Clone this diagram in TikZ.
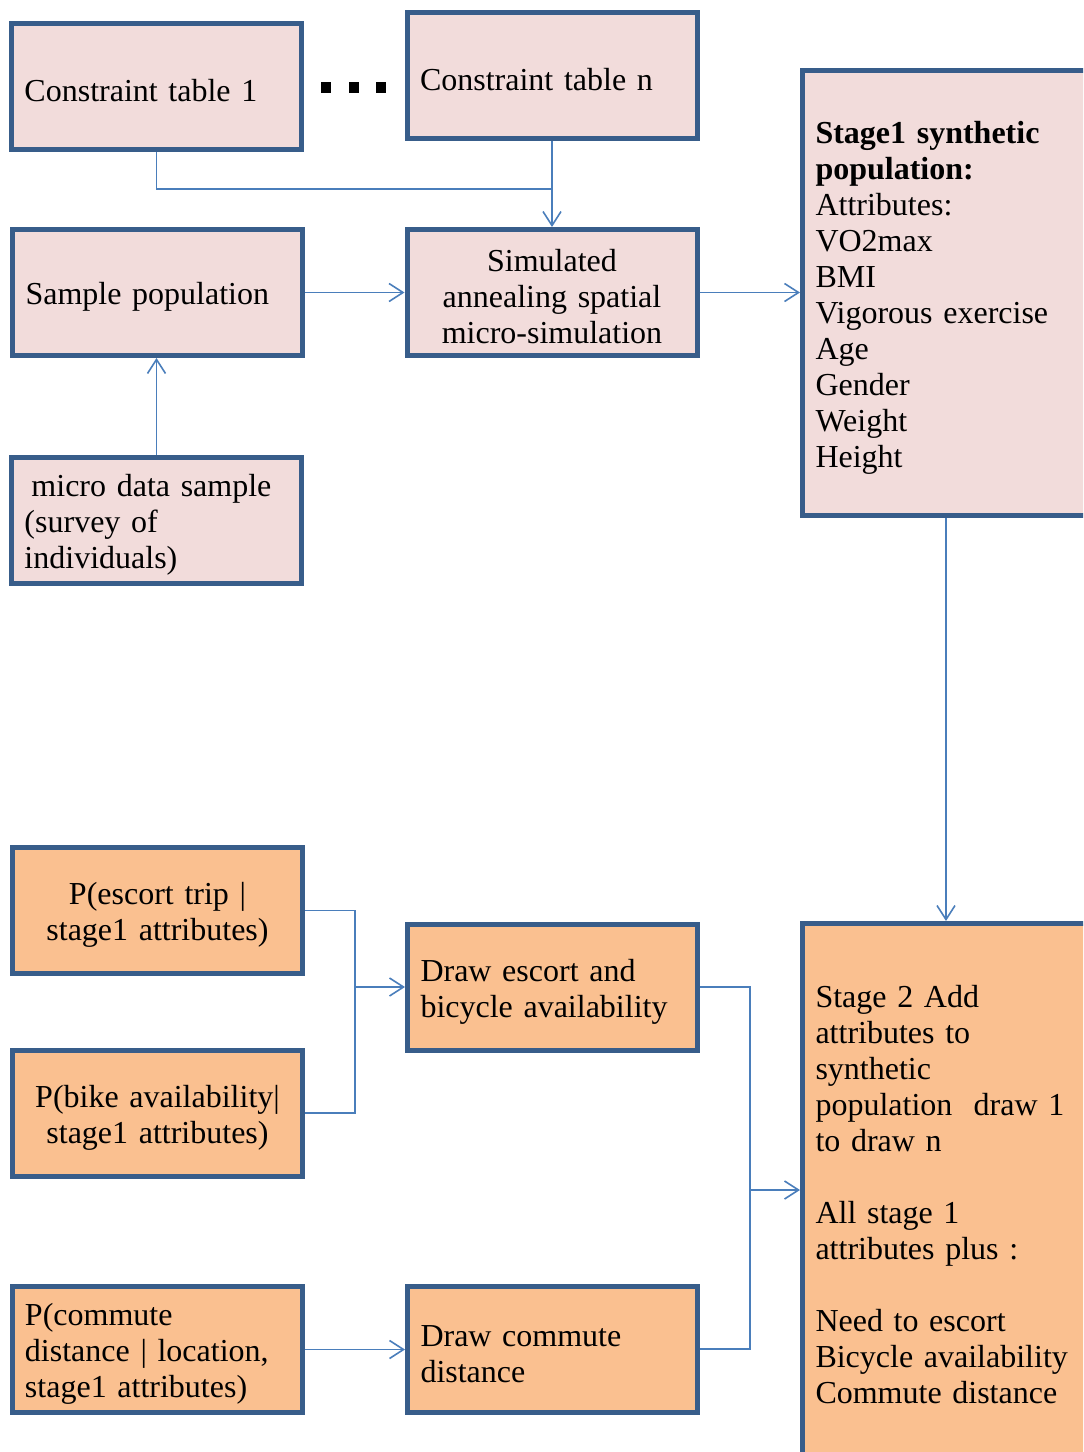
\documentclass[tikz,border=0pt]{standalone}
\usepackage{fontspec}
\setmainfont{Liberation Serif}
\usetikzlibrary{arrows.meta}
\definecolor{pinkfill}{HTML}{F2DCDB}
\definecolor{orangefill}{HTML}{FAC090}
\definecolor{boxline}{HTML}{385D8A}
\definecolor{connline}{HTML}{4A7EBB}
\newcommand\topstrut{\rule{0pt}{15.5pt}}
\tikzset{
  box/.style={draw=boxline, line width=2.5pt, minimum width=145pt, minimum height=63pt,
    inner xsep=6.5pt, inner ysep=0pt, font=\fontsize{16}{18}\selectfont, text width=132pt},
  pinkbox/.style={box, fill=pinkfill},
  orangebox/.style={box, fill=orangefill},
  leftx/.style={align=left},
  centx/.style={align=center},
  bigbox/.style={minimum width=143.5pt, text width=130.5pt, align=left},
  conn/.style={draw=connline, line width=0.8pt},
  arr/.style={conn, -{Straight Barb[length=7pt,width=9pt]}}
}
\begin{document}
\begin{tikzpicture}[x=0.5pt,y=-0.5pt]
\useasboundingbox (0,0) rectangle (1083,1452);
\clip (0,0) rectangle (1083,1452);
\fill[white] (0,0) rectangle (1083,1452);

% top section
\node[pinkbox, leftx] (ct1) at (156.5,86.5) {\topstrut Constraint table 1};
\node[pinkbox, leftx] (ctn) at (552,75.5) {\topstrut Constraint table n};
\node[pinkbox, leftx] (sp) at (157.5,292.5) {\topstrut Sample population};
\node[pinkbox, centx] (sa) at (552,292.5) {\topstrut Simulated\\annealing spatial\\micro-simulation};
\node[pinkbox, leftx] (md) at (156.5,520) {\topstrut\hspace*{3.5pt}micro data sample\\(survey of\\individuals)};
\node[pinkbox, bigbox, minimum height=222.5pt] (s1) at (946,293)
  {\topstrut\textbf{Stage1 synthetic}\\\textbf{population:}\\Attributes:\\VO2max\\BMI\\Vigorous exercise\\Age\\Gender\\Weight\\Height};

% dots
\fill[black] (321,82) rectangle (331,93);
\fill[black] (349,82) rectangle (359,93);
\fill[black] (376,82) rectangle (386,93);

% bottom section
\node[orangebox, centx] (pe) at (157.5,910.5) {\topstrut P(escort trip |\\stage1 attributes)};
\node[orangebox, centx] (pb) at (157.5,1113) {\topstrut P(bike availability|\\stage1 attributes)};
\node[orangebox, leftx] (de) at (552.5,987) {\topstrut Draw escort and\\bicycle availability};
\node[orangebox, leftx] (pc) at (157,1349.5) {\topstrut P(commute\\distance | location,\\stage1 attributes)};
\node[orangebox, leftx] (dc) at (552.5,1349) {\topstrut Draw commute\\distance};
\node[orangebox, bigbox, minimum height=266.5pt] (s2) at (946,1190)
  {\topstrut Stage 2 Add\\attributes to\\synthetic\\population\ \ draw 1\\to draw n\\[18pt]All stage 1\\attributes plus :\\[18pt]Need to escort\\Bicycle availability\\Commute distance};

% connectors
\coordinate (j1) at (552,189);
\draw[conn] (ct1.south) |- (j1);
\draw[arr] (ctn.south) -- (sa.north);
\draw[arr] (sp.east) -- (sp.east -| sa.west);
\draw[arr] (md.north) -- (md.north |- sp.south);
\draw[arr] (sa.east) -- (sa.east -| s1.west);
\draw[arr] (s1.south) -- (s2.north);

\coordinate (j2) at (355,987);
\draw[conn] (pe.east) -| (j2);
\draw[conn] (pb.east) -| (j2);
\draw[arr] (j2) -- (de.west);

\coordinate (j3) at (750,1190);
\draw[conn] (de.east) -| (j3);
\draw[conn] (dc.east) -| (j3);
\draw[arr] (j3) -- (s2.west);

\draw[arr] (pc.east) -- (pc.east -| dc.west);
\end{tikzpicture}
\end{document}
